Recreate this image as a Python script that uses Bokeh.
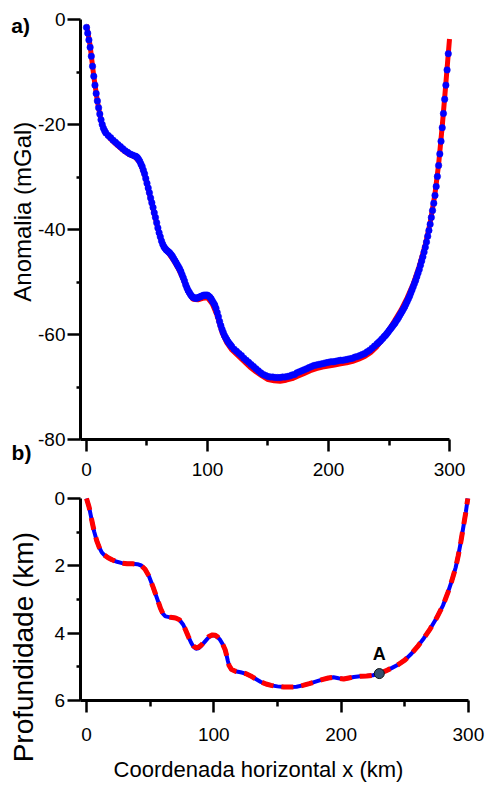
import math
from bokeh.plotting import figure
from bokeh.layouts import column
from bokeh.models import Range1d, FixedTicker, Label
from bokeh.embed import file_html
from bokeh.resources import INLINE

FONT = "Liberation Sans"

# ---------------- panel a: gravity anomaly (mGal) ----------------
# observed anomaly (blue dots)
obs_x = [0, 1, 2, 3, 4, 5, 6, 7, 8, 9, 10, 11, 12, 13, 14, 15, 16,
         18, 20, 22, 24, 26, 28, 30, 32, 34, 36, 38, 40,
         41, 42, 43, 44, 45, 46, 47, 48, 49, 50, 51, 52, 53, 54, 55, 56, 57,
         58, 59, 60, 61, 62, 63, 64, 65, 66, 67, 68, 69, 70, 71, 72, 73, 74,
         75, 76, 77, 78, 79, 80, 81, 82, 83, 84, 85, 86, 87, 88, 89, 90, 91,
         92, 93, 94, 95, 96, 97, 98, 99, 100, 101, 102, 103, 104, 105, 106,
         107, 108, 109, 110, 111, 112, 113, 114, 115, 116, 117, 118, 119, 120,
         122, 124, 126, 128, 130, 132, 134, 136, 138, 140, 142,
         144, 146, 148, 150, 152, 154, 156, 158, 160, 162, 164, 166, 168, 170,
         172, 174, 176, 178, 180, 182, 184, 186, 188, 190, 192, 194, 196, 198,
         200, 202, 204, 206, 208, 210, 212, 214, 216, 218, 220, 222, 224, 226,
         228, 230, 232, 234, 236, 238, 240,
         241, 242, 243, 244, 245, 246, 247, 248, 249, 250, 251, 252, 253, 254,
         255, 256, 257, 258, 259, 260, 261, 262, 263, 264, 265, 266, 267, 268,
         269, 270, 271, 272, 273, 274, 275, 276, 277, 278, 279, 280, 281, 282,
         283, 284, 285, 286, 287, 288, 289, 290, 291, 292, 293, 294, 295, 296,
         297, 298, 299]
obs_g = [-1.5, -2.6, -3.9, -5.3, -7.0, -8.9, -10.8, -12.5, -14.1, -15.5, -16.8,
         -18.0, -19.1, -20.0, -20.7, -21.2, -21.6,
         -22.1, -22.5, -23.0, -23.4, -23.8, -24.2, -24.6, -25.0, -25.3, -25.6,
         -25.8, -26.0,
         -26.1, -26.3, -26.6, -27.0, -27.5, -28.0, -28.7, -29.4, -30.3, -31.2,
         -32.1, -33.0, -34.0, -34.9, -35.8, -36.8, -37.7,
         -38.7, -39.7, -40.6, -41.4, -42.2, -42.8, -43.3, -43.6, -43.9, -44.1,
         -44.3, -44.5, -44.8, -45.1, -45.5, -45.9, -46.3,
         -46.7, -47.1, -47.5, -48.0, -48.6, -49.2, -49.8, -50.5, -51.1, -51.6,
         -52.0, -52.4, -52.7, -52.9, -53.0, -53.1, -53.1,
         -53.0, -52.9, -52.8, -52.7, -52.6, -52.5, -52.5, -52.5, -52.5, -52.7,
         -52.9, -53.2, -53.6, -54.0, -54.4,
         -55.0, -55.8, -56.6, -57.5, -58.3, -59.0, -59.6, -60.2, -60.6, -61.0,
         -61.4, -61.7, -62.0, -62.3,
         -62.8, -63.2, -63.6, -64.0, -64.5, -64.9, -65.3, -65.7, -66.1, -66.5,
         -66.9,
         -67.3, -67.6, -67.8, -68.0, -68.1, -68.1, -68.2, -68.2, -68.2, -68.1,
         -68.1, -68.0, -67.9, -67.7,
         -67.6, -67.3, -67.1, -66.9, -66.7, -66.5, -66.3, -66.1, -65.9, -65.8,
         -65.7, -65.6, -65.5, -65.4,
         -65.3, -65.2, -65.2, -65.1, -65.0, -64.9, -64.9, -64.8, -64.7, -64.6,
         -64.5, -64.3, -64.2, -64.0,
         -63.8, -63.6, -63.3, -63.0, -62.6, -62.2, -61.8,
         -61.6, -61.4, -61.2, -60.9, -60.7, -60.4, -60.2, -59.9, -59.6, -59.3,
         -59.0, -58.7, -58.4, -58.1,
         -57.8, -57.4, -57.1, -56.7, -56.3, -55.9, -55.5, -55.1, -54.7, -54.2,
         -53.7, -53.2, -52.7, -52.1,
         -51.5, -50.9, -50.3, -49.7, -49.0, -48.3, -47.6, -46.8, -46.0, -45.2,
         -44.3, -43.4, -42.4, -41.3, -40.2, -39.0, -37.7, -36.4, -35.0, -33.5,
         -31.8, -29.9, -27.8, -25.6, -23.2, -20.6, -17.9, -15.2, -12.5, -9.6,
         -6.5]

# computed anomaly (red line)
calc_x = [0, 3, 6, 9, 12, 15, 20, 25, 30, 35, 40, 44, 48, 52, 56, 60, 64, 68,
          72, 76, 80, 84, 88, 92, 96, 100, 104, 108, 112, 116, 120, 125, 130,
          135, 140, 145, 150, 155, 160, 165, 170, 175, 180, 185, 190, 195, 200,
          205, 210, 215, 220, 225, 230, 235, 240, 245, 250, 255, 260, 265, 270,
          275, 280, 284, 288, 291, 294, 296, 298, 300]
calc_g = [-1.0, -5.0, -10.8, -15.6, -19.3, -21.4, -22.8, -23.9, -24.9, -25.7,
          -26.2, -27.2, -29.6, -33.2, -37.0, -40.8, -43.5, -44.6, -45.9, -47.5,
          -49.5, -51.9, -53.3, -53.4, -53.1, -53.0, -54.2, -56.4, -59.6, -61.6,
          -62.9, -64.0, -65.1, -66.2, -67.1, -67.9, -68.6, -68.8, -68.9, -68.7,
          -68.4, -67.9, -67.4, -66.9, -66.5, -66.2, -66.0, -65.8, -65.6, -65.4,
          -65.1, -64.7, -64.2, -63.4, -62.3, -60.8, -59.1, -57.2, -55.3, -53.0,
          -50.4, -47.0, -42.9, -38.7, -33.2, -27.6, -20.3, -14.9, -9.3, -3.7]

# ---------------- panel b: depth (km) ----------------
dep_x = [0, 2, 4, 6, 8, 10, 12, 14, 17, 20, 24, 28, 32, 36, 40, 43, 46, 49, 52,
         55, 58, 60, 62, 66, 70, 73, 76, 78, 80, 82, 84, 86, 88, 90, 93, 96, 99,
         101, 103, 105, 107, 109, 110, 111, 112, 114, 117, 121, 125, 129, 133,
         137, 141, 145, 150, 155, 160, 165, 170, 175, 180, 185, 190, 194, 198,
         202, 206, 210, 215, 220, 225, 230, 235, 240, 245, 250, 255, 260, 265,
         270, 275, 280, 284, 287, 290, 292, 294, 296, 298, 299.5]
dep_true = [0.0, 0.25, 0.62, 0.98, 1.25, 1.45, 1.6, 1.68, 1.76, 1.82, 1.88, 1.92,
            1.94, 1.94, 1.95, 1.99, 2.1, 2.3, 2.6, 2.92, 3.25, 3.42, 3.5, 3.53,
            3.55, 3.6, 3.75, 3.92, 4.1, 4.27, 4.4, 4.46, 4.45, 4.38, 4.25, 4.12,
            4.06, 4.07, 4.12, 4.2, 4.33, 4.5, 4.65, 4.82, 4.96, 5.08, 5.13, 5.16,
            5.2, 5.27, 5.36, 5.45, 5.51, 5.55, 5.58, 5.6, 5.6, 5.59, 5.55, 5.5,
            5.44, 5.38, 5.33, 5.31, 5.34, 5.36, 5.33, 5.3, 5.28, 5.27, 5.25, 5.2,
            5.12, 5.03, 4.93, 4.8, 4.62, 4.4, 4.15, 3.87, 3.55, 3.18, 2.78, 2.44,
            2.05, 1.7, 1.3, 0.85, 0.4, 0.0]
dep_est = [0.0, 0.25, 0.62, 0.98, 1.25, 1.45, 1.6, 1.68, 1.76, 1.82, 1.88, 1.92,
           1.94, 1.94, 1.95, 1.99, 2.1, 2.3, 2.6, 2.92, 3.25, 3.42, 3.5, 3.53,
           3.55, 3.6, 3.75, 3.92, 4.1, 4.27, 4.38, 4.43, 4.42, 4.36, 4.23, 4.1,
           4.05, 4.06, 4.11, 4.2, 4.33, 4.5, 4.65, 4.82, 4.96, 5.08, 5.13, 5.16,
           5.2, 5.27, 5.36, 5.45, 5.51, 5.55, 5.58, 5.6, 5.6, 5.59, 5.55, 5.5,
           5.44, 5.38, 5.33, 5.31, 5.34, 5.36, 5.33, 5.3, 5.28, 5.27, 5.25, 5.2,
           5.12, 5.03, 4.93, 4.8, 4.62, 4.4, 4.15, 3.87, 3.55, 3.18, 2.78, 2.44,
           2.05, 1.7, 1.3, 0.85, 0.4, 0.0]

point_a_x = [230]
point_a_d = [5.2]

x_ticks = [0, 100, 200, 300]
x_minor = [50, 150, 250]
ya_ticks = [0, -20, -40, -60, -80]
ya_minor = [-10, -30, -50, -70]
ya_labels = ["0", "-20", "-40", "-60", "-80"]
yb_ticks = [0, 2, 4, 6]
yb_minor = [1, 3, 5]


def style(p, xt, xm, yt, ym, x_standoff):
    p.grid.visible = False
    p.outline_line_color = None
    p.background_fill_color = "white"
    p.border_fill_color = "white"
    p.xaxis.ticker = FixedTicker(ticks=xt, minor_ticks=xm)
    p.yaxis.ticker = FixedTicker(ticks=yt, minor_ticks=ym)
    for ax in (p.xaxis, p.yaxis):
        ax.axis_line_width = 3
        ax.axis_line_color = "black"
        ax.major_tick_line_width = 2.5
        ax.major_tick_line_color = "black"
        ax.minor_tick_line_width = 2.5
        ax.minor_tick_line_color = "black"
        ax.major_tick_in = 0
        ax.minor_tick_in = 0
        ax.major_label_text_font = FONT
        ax.major_label_text_font_size = "19px"
        ax.major_label_text_color = "black"
    p.yaxis.major_tick_out = 13
    p.yaxis.minor_tick_out = 4
    p.yaxis.major_label_standoff = 2
    p.xaxis.major_tick_out = 12
    p.xaxis.minor_tick_out = 6
    p.xaxis.major_label_standoff = x_standoff


def text_label(p, x, y, text, size, bold=False, angle=0.0):
    p.add_layout(Label(x=x, y=y, text=text, angle=angle,
                       text_align="center", text_baseline="middle",
                       text_font=FONT, text_font_size=size,
                       text_font_style="bold" if bold else "normal",
                       text_color="black"))


# panel a : the frame fills the whole canvas, axes sit at fixed data locations
pa = figure(width=496, height=486, x_range=Range1d(-71.07, 338.84), y_range=Range1d(-88.95, 3.62),
            output_backend="svg", toolbar_location=None,
            min_border_left=0, min_border_right=0, min_border_top=0, min_border_bottom=0)
style(pa, x_ticks, x_minor, ya_ticks, ya_minor, 11)
pa.yaxis.fixed_location = -5
pa.yaxis.bounds = (-80, 0)
pa.xaxis.fixed_location = -80
pa.xaxis.bounds = (-5, 300)
pa.yaxis.major_label_overrides = {t: s for t, s in zip(ya_ticks, ya_labels)}
pa.line(calc_x, calc_g, line_color="#ff0000", line_width=5)
pa.scatter(obs_x, obs_g, size=6.5, fill_color="#0000ff", line_color="#0000ff", line_width=0.5)

text_label(pa, -52.9, -36.6, "Anomalia (mGal)", "24px", angle=math.pi / 2)
text_label(pa, -54.5, -1.1, "a)", "21px", bold=True)
text_label(pa, -53.7, -82.5, "b)", "21px", bold=True)

# panel b
pb = figure(width=496, height=301, x_range=Range1d(-67.56, 322.07), y_range=Range1d(8.583, -0.356),
            output_backend="svg", toolbar_location=None,
            min_border_left=0, min_border_right=0, min_border_top=0, min_border_bottom=0)
style(pb, x_ticks, x_minor, yb_ticks, yb_minor, 15)
pb.yaxis.fixed_location = -5
pb.yaxis.bounds = (0, 6)
pb.xaxis.fixed_location = 6
pb.xaxis.bounds = (-5, 300)
pb.line(dep_x, dep_true, line_color="#0000ff", line_width=4)
pb.line(dep_x, dep_est, line_color="#ff0000", line_width=5, line_dash="12 8")
pb.scatter(point_a_x, point_a_d, size=10, fill_color="#34506e", line_color="#111111", line_width=1)
pb.add_layout(Label(x=point_a_x[0], y=point_a_d[0], y_offset=20, text="A",
                    text_align="center", text_baseline="middle", text_font=FONT,
                    text_font_size="18px", text_font_style="bold", text_color="black"))

text_label(pb, -49.5, 4.3, "Profundidade  (km)", "28px", angle=math.pi / 2)
text_label(pb, 135.1, 8.05, "Coordenada horizontal x (km)", "22px")

layout = column(pa, pb, spacing=0)
open("out.html", "w").write(file_html(layout, INLINE))
